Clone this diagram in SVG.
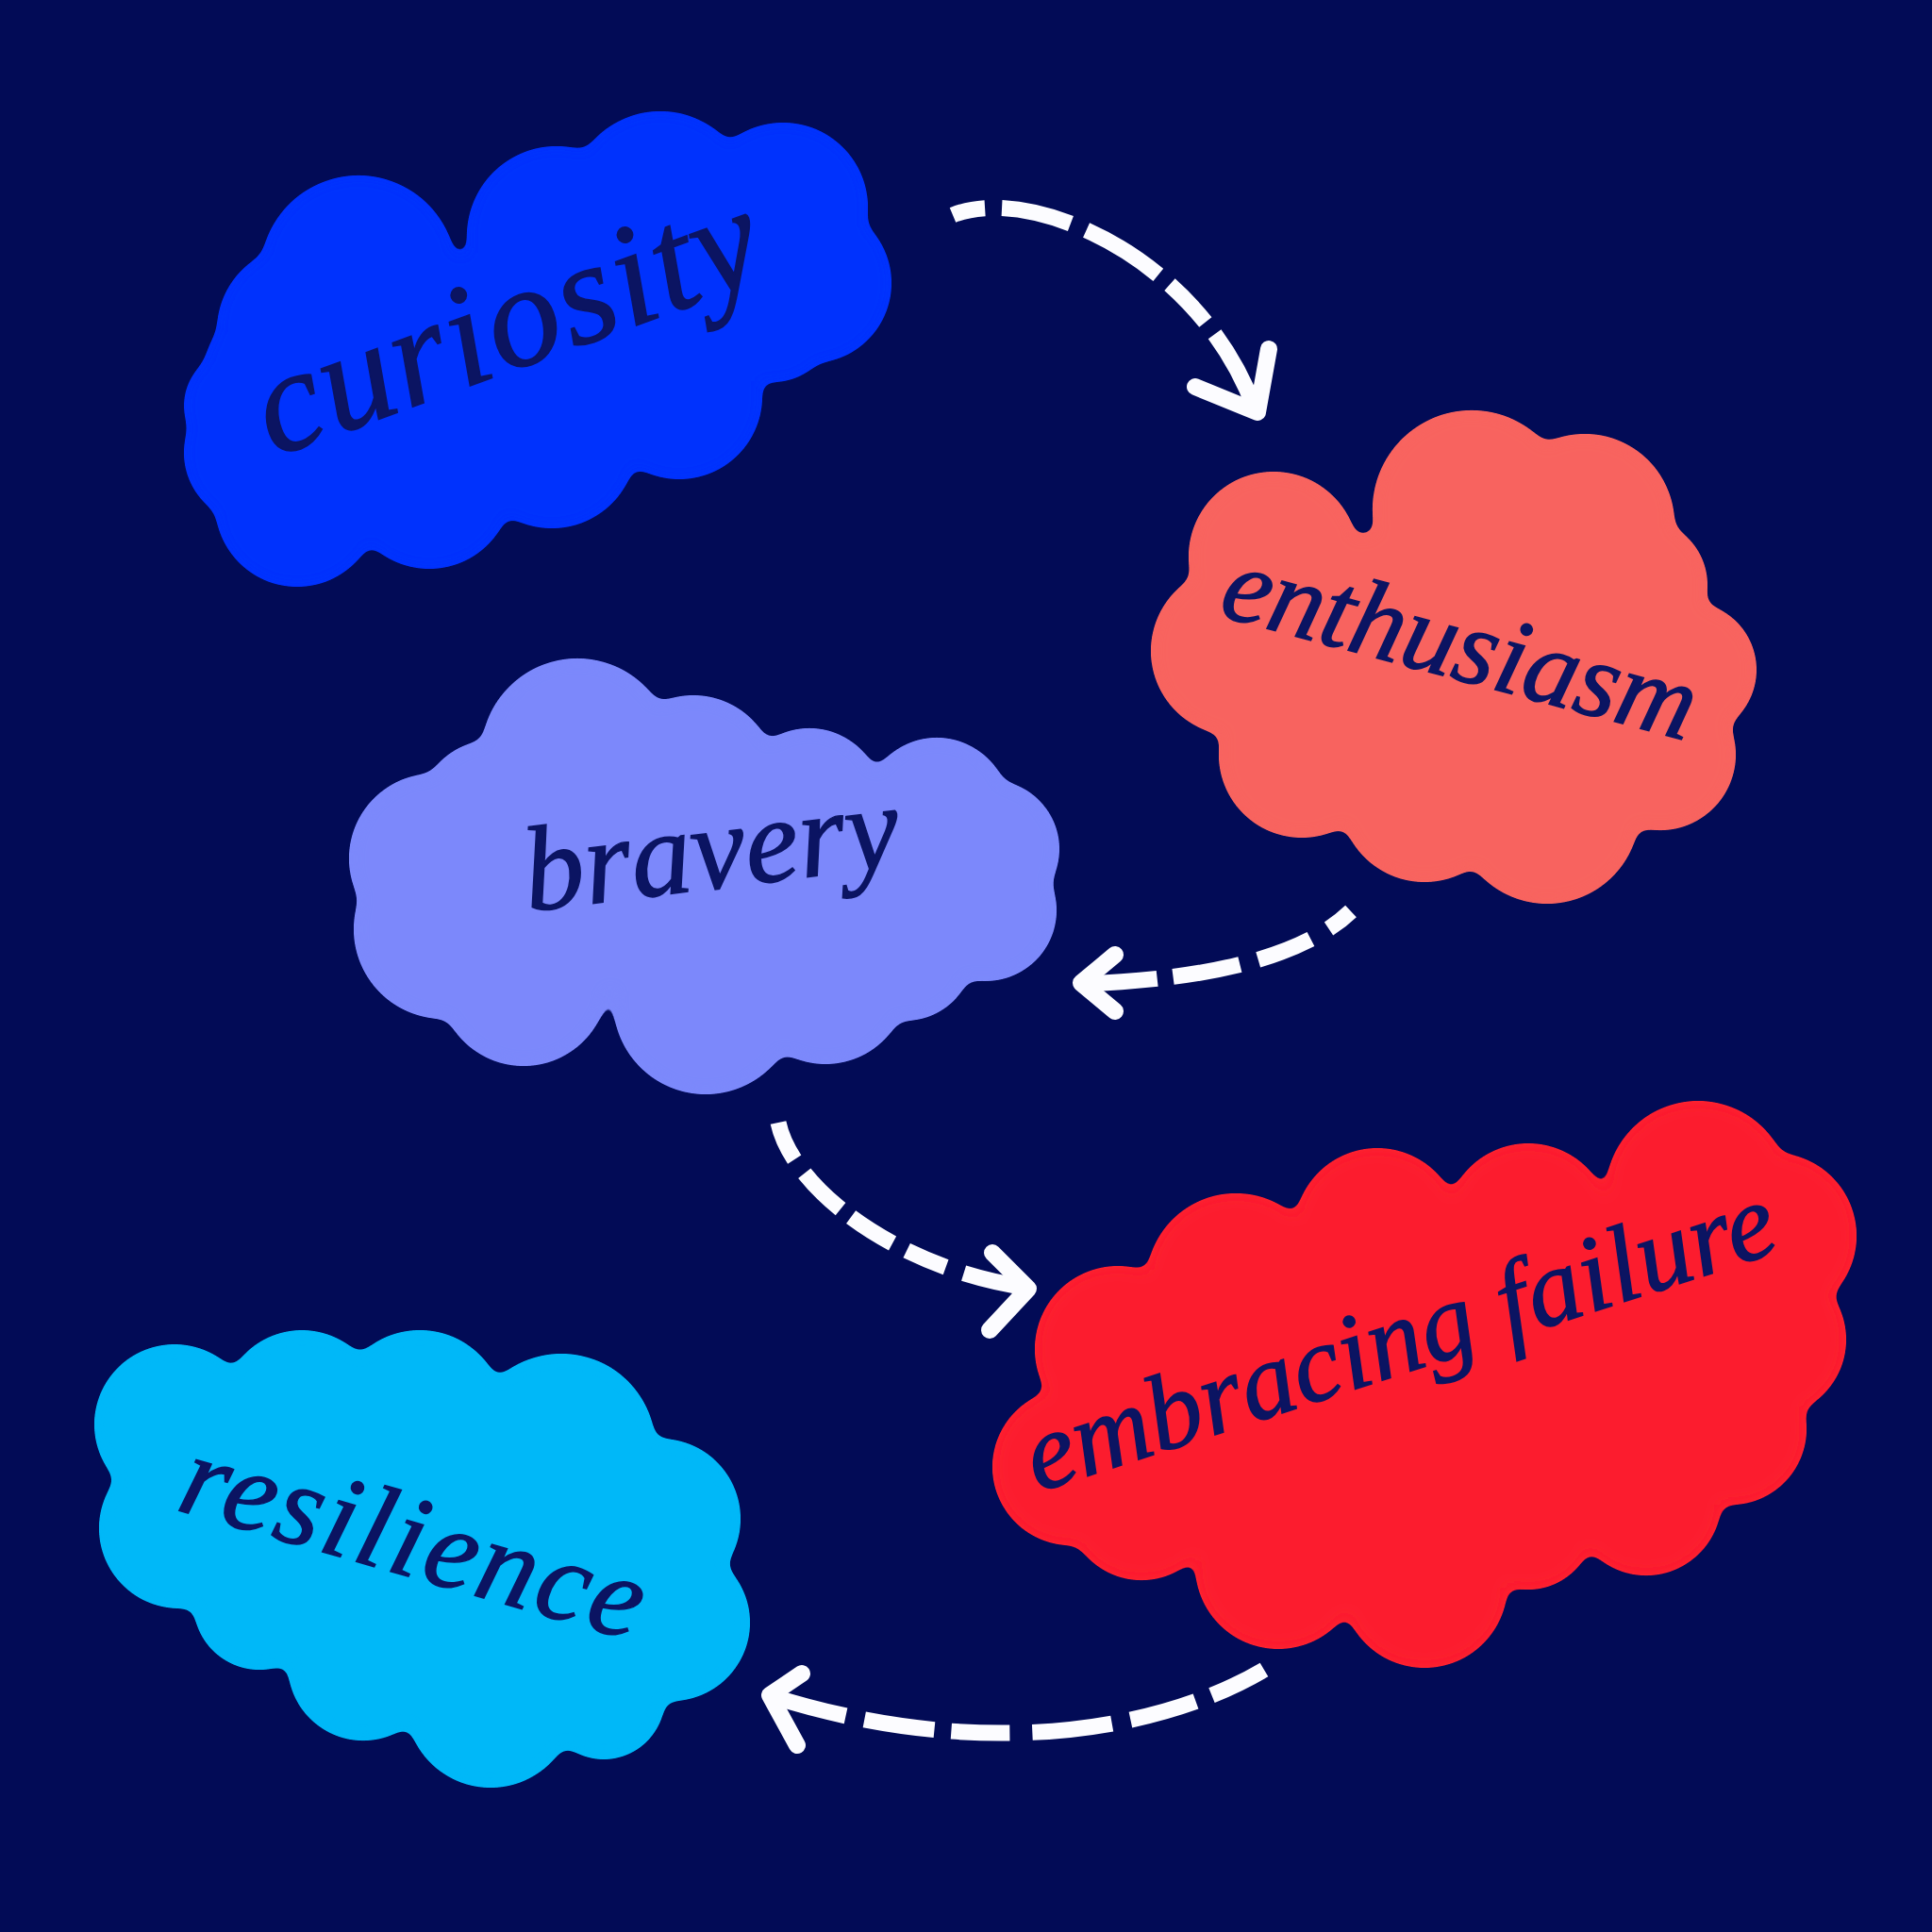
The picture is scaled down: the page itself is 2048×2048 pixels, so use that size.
<svg xmlns="http://www.w3.org/2000/svg" width="2048" height="2048" viewBox="0 0 2048 2048">
<defs>
<filter id="goo" x="-10%" y="-10%" width="120%" height="120%">
<feGaussianBlur in="SourceGraphic" stdDeviation="8" result="b"/>
<feColorMatrix in="b" type="matrix" values="1 0 0 0 0  0 1 0 0 0  0 0 1 0 0  0 0 0 22 -10"/>
</filter>
</defs>
<style>
.bg{fill:#020b56}
.c1{fill:#0533fd}
.c2{fill:#f8645e}
.c3{fill:#7c88fb}
.c4{fill:#fc1c2f}
.c5{fill:#02b8f8}
.shape{filter:url(#goo)}
.lbl{font-family:"Liberation Serif","DejaVu Serif",serif;font-style:italic;fill:#0b1462;stroke:#0b1462;stroke-width:1.5}
.arr{fill:none;stroke:#fcfcff;stroke-width:17;stroke-linecap:butt}
.head{fill:none;stroke:#fcfcff;stroke-width:18;stroke-linecap:round;stroke-linejoin:round}
</style>
<rect class="bg" x="0" y="0" width="2048" height="2048"/>

<g id="curiosity">
<g class="shape c1">
<circle cx="380" cy="290" r="104"/><circle cx="320" cy="350" r="90"/><circle cx="590" cy="250" r="95"/>
<circle cx="700" cy="215" r="97"/><circle cx="830" cy="220" r="90"/><circle cx="860" cy="300" r="85"/>
<circle cx="820" cy="340" r="65"/><circle cx="720" cy="420" r="88"/><circle cx="585" cy="470" r="90"/>
<circle cx="455" cy="515" r="88"/><circle cx="315" cy="535" r="87"/><circle cx="270" cy="480" r="75"/>
<circle cx="300" cy="400" r="85"/><circle cx="255" cy="430" r="60"/>
<polygon points="380,290 590,250 700,215 830,220 860,300 820,340 720,420 585,470 455,515 315,535 270,480 300,400"/>
</g>
<text class="lbl" x="290" y="485" font-size="155" textLength="560" lengthAdjust="spacing" transform="rotate(-20 290 485)">curiosity</text>
</g>

<g id="enthusiasm">
<g class="shape c2">
<circle cx="1560" cy="540" r="105"/><circle cx="1680" cy="555" r="95"/><circle cx="1740" cy="620" r="70"/>
<circle cx="1790" cy="710" r="72"/><circle cx="1760" cy="800" r="80"/><circle cx="1640" cy="860" r="98"/>
<circle cx="1510" cy="845" r="90"/><circle cx="1380" cy="800" r="88"/><circle cx="1310" cy="690" r="90"/>
<circle cx="1350" cy="590" r="90"/>
<polygon points="1560,540 1680,555 1740,620 1790,710 1760,800 1640,860 1510,845 1380,800 1310,690 1350,590"/>
</g>
<text class="lbl" x="1290" y="652" font-size="115" textLength="515" lengthAdjust="spacing" transform="rotate(15 1290 652)">enthusiasm</text>
</g>

<g id="bravery">
<g class="shape c3">
<circle cx="612" cy="800" r="102"/><circle cx="735" cy="825" r="88"/><circle cx="858" cy="850" r="78"/>
<circle cx="993" cy="860" r="78"/><circle cx="1050" cy="900" r="73"/><circle cx="1045" cy="965" r="75"/>
<circle cx="960" cy="1010" r="72"/><circle cx="875" cy="1040" r="88"/><circle cx="748" cy="1062" r="98"/>
<circle cx="555" cy="1040" r="90"/><circle cx="470" cy="985" r="95"/><circle cx="460" cy="910" r="90"/>
<circle cx="520" cy="860" r="75"/>
<polygon points="612,800 735,825 858,850 993,860 1050,900 1045,965 960,1010 875,1040 748,1062 555,1040 470,985 460,910 520,860"/>
</g>
<text class="lbl" x="560" y="966" font-size="128" textLength="400" lengthAdjust="spacing" transform="rotate(-7 560 966)">bravery</text>
</g>

<g id="embracing-failure">
<g class="shape c4">
<circle cx="1310" cy="1360" r="95"/><circle cx="1460" cy="1305" r="88"/><circle cx="1620" cy="1300" r="88"/>
<circle cx="1800" cy="1265" r="98"/><circle cx="1880" cy="1310" r="88"/><circle cx="1875" cy="1420" r="82"/>
<circle cx="1835" cy="1515" r="80"/><circle cx="1745" cy="1590" r="80"/><circle cx="1620" cy="1615" r="70"/>
<circle cx="1510" cy="1680" r="88"/><circle cx="1355" cy="1660" r="88"/><circle cx="1210" cy="1595" r="80"/>
<circle cx="1135" cy="1555" r="83"/><circle cx="1185" cy="1430" r="88"/>
<polygon points="1310,1360 1460,1305 1620,1300 1800,1265 1880,1310 1875,1420 1835,1515 1745,1590 1620,1615 1510,1680 1355,1660 1210,1595 1135,1555 1185,1430"/>
</g>
<text class="lbl" x="1100" y="1582" font-size="115" textLength="830" lengthAdjust="spacing" transform="rotate(-18 1100 1582)">embracing failure</text>
</g>

<g id="resilience">
<g class="shape c5">
<circle cx="185" cy="1510" r="85"/><circle cx="320" cy="1495" r="85"/><circle cx="445" cy="1500" r="90"/>
<circle cx="595" cy="1535" r="100"/><circle cx="700" cy="1610" r="85"/><circle cx="712" cy="1720" r="83"/>
<circle cx="640" cy="1800" r="65"/><circle cx="520" cy="1805" r="90"/><circle cx="385" cy="1765" r="80"/>
<circle cx="275" cy="1700" r="70"/><circle cx="190" cy="1620" r="85"/>
<polygon points="185,1510 320,1495 445,1500 595,1535 700,1610 712,1720 640,1800 520,1805 385,1765 275,1700 190,1620"/>
</g>
<text class="lbl" x="185" y="1600" font-size="124" textLength="505" lengthAdjust="spacing" transform="rotate(16 185 1600)">resilience</text>
</g>

<g id="connectors">
<path class="arr" d="M1010,228 C1090,195 1270,270 1330,433" stroke-dasharray="35 18 75 18 90 16 55 16 400"/>
<polyline class="head" points="1267,410 1333,437 1345,370"/>
<path class="arr" d="M1432,966 Q1360,1035 1148,1043" stroke-dasharray="30 22 60 20 72 17 400"/>
<polyline class="head" points="1182,1012 1146,1042 1182,1072"/>
<path class="arr" d="M825,1190 C840,1260 950,1345 1090,1365" stroke-dasharray="43 18 54 14 52 17 45 20 400"/>
<polyline class="head" points="1052,1328 1090,1366 1049,1410"/>
<path class="arr" d="M1340,1770 C1230,1835 1040,1868 818,1798" stroke-dasharray="62 18 72 20 85 24 62 18 75 20 400"/>
<polyline class="head" points="850,1774 816,1797 845,1850"/>
</g>
</svg>
